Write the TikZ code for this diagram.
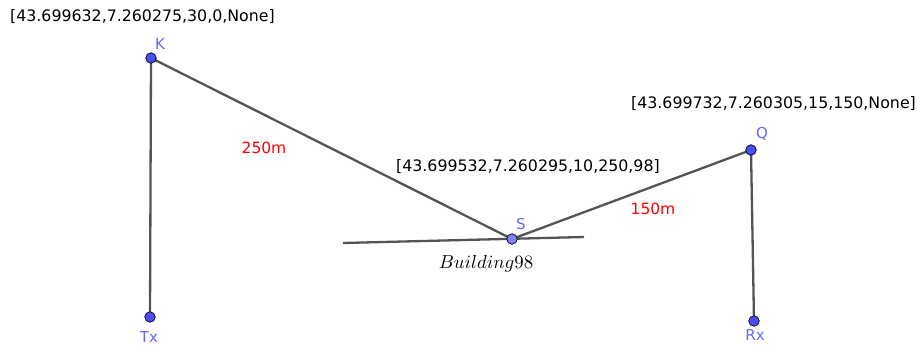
\documentclass[tikz,border=0pt]{standalone}
\usepackage{graphicx}
\usepackage{fontspec}
\setmainfont{DejaVu Sans}
\begin{document}
\begin{tikzpicture}[x=1pt,y=-1pt,
  seg/.style={draw=black!67, line width=2.3pt},
  pt/.style={circle, fill=blue!70!white, draw=black, line width=0.7pt, inner sep=0pt, minimum size=10.5pt},
  spt/.style={circle, fill=blue!50!white, draw=black, line width=0.7pt, inner sep=0pt, minimum size=10.5pt},
  lbl/.style={text=blue!60!white, font=\fontsize{15}{18}\selectfont, inner sep=0pt},
  dist/.style={text=red, font=\fontsize{15.5}{18}\selectfont, inner sep=0pt},
  info/.style={text=black, font=\fontsize{15.8}{18}\selectfont, inner sep=0pt, anchor=west}]
\useasboundingbox (0,0) rectangle (917,345);
\coordinate (K) at (151,58);
\coordinate (Tx) at (150,317);
\coordinate (S) at (512,239);
\coordinate (Q) at (751,150);
\coordinate (Rx) at (754,321);
\coordinate (B1) at (343,243);
\coordinate (B2) at (584,237);
\draw[seg] (B1) -- (B2);
\draw[seg] (K) -- (Tx);
\draw[seg] (K) -- (S);
\draw[seg] (S) -- (Q);
\draw[seg] (Q) -- (Rx);
\node[pt] (nK) at (K) {};
\node[pt] (nTx) at (Tx) {};
\node[spt] (nS) at (S) {};
\node[pt] (nQ) at (Q) {};
\node[pt] (nRx) at (Rx) {};
\node[lbl] (lK) at (160,44) {K};
\node[lbl] (lS) at (521,224) {S};
\node[lbl] (lQ) at (762,134) {Q};
\node[lbl] (lTx) at (149,337) {Tx};
\node[lbl] (lRx) at (755,335) {Rx};
\node[dist] (d1) at (264,148) {250m};
\node[dist] (d2) at (653,209) {150m};
\node[info] (iK) at (10,17) {[43.699632,7.260275,30,0,None]};
\node[info] (iS) at (396,167) {[43.699532,7.260295,10,250,98]};
\node[info] (iQ) at (631,104) {[43.699732,7.260305,15,150,None]};
\node[inner sep=0pt] (bld) at (486,264) {\scalebox{1.88}{$Building98$}};
\end{tikzpicture}
\end{document}
